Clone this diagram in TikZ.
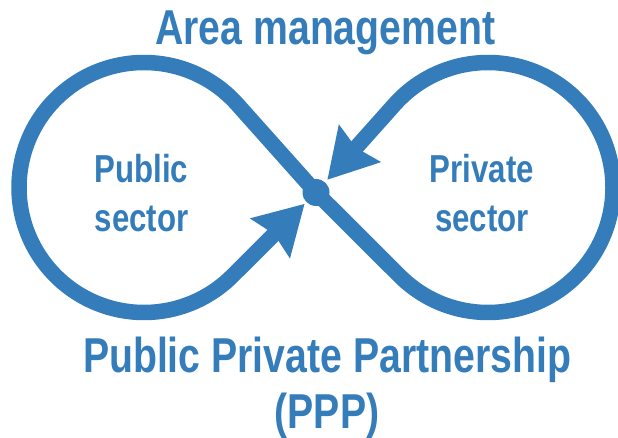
\documentclass[tikz,border=0pt]{standalone}
\usepackage{fontspec}
\setmainfont{Liberation Sans}[FakeStretch=0.8]
\usetikzlibrary{arrows.meta}
\definecolor{ppblue}{HTML}{347DBA}
\begin{document}
\begin{tikzpicture}[x=1pt,y=1pt,
  loopline/.style={draw=ppblue, line width=15.5pt},
  inarrow/.style={-{Stealth[length=48pt,width=54pt,inset=5pt]}},
  lbl/.style={text=ppblue, font=\bfseries\fontsize{39}{49}\selectfont, align=center, inner sep=0pt},
  big/.style={text=ppblue, font=\bfseries\fontsize{49}{56}\selectfont, align=center, inner sep=0pt}]
\useasboundingbox (0,0) rectangle (618,-438);
\coordinate (L) at (144,-187.5);
\coordinate (R) at (488,-187.5);
\node[circle, fill=ppblue, minimum size=27pt, inner sep=0pt] (X) at (316,-192.5) {};
% left loop
\draw[loopline, inarrow, shorten >=16pt] (X.center) -- ([shift={(L)}]41.75:125)
  arc[start angle=41.75, end angle=314.93, radius=125] -- (X.center);
% right loop
\draw[loopline, inarrow, shorten >=17pt] (X.center) -- ([shift={(R)}]225.075:125)
  arc[start angle=225.075, end angle=498.255, radius=125] -- (X.center);
\node[big, anchor=base] (title) at (325.3,-45) {Area management};
\node[lbl, anchor=base] (pub) at (141.5,-232) {Public\\sector};
\node[lbl, anchor=base] (priv) at (482,-232) {Private\\sector};
\node[big, anchor=base] (ppp) at (327,-428) {Public Private Partnership\\(PPP)};
\end{tikzpicture}
\end{document}
